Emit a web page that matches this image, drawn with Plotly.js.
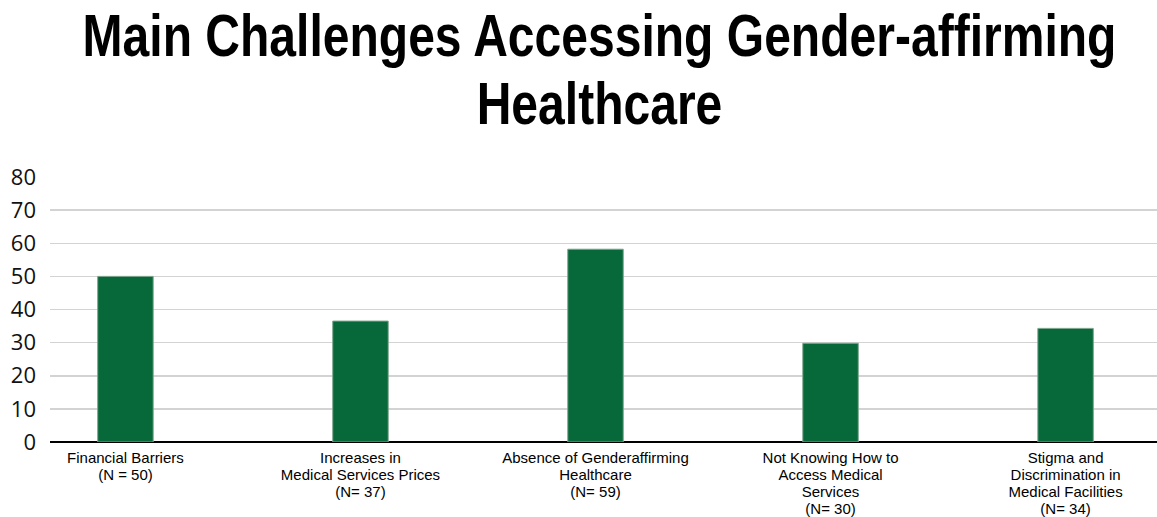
<!DOCTYPE html>
<html>
<head>
<meta charset="utf-8">
<script src="https://cdn.plot.ly/plotly-3.0.1.min.js"></script>
<style>
  html, body { margin: 0; padding: 0; background: #fff; }
  #chart { width: 1157px; height: 517px; }
</style>
</head>
<body>
<div id="chart"></div>
<script>
const categories = [
  "Financial Barriers<br>(N = 50)",
  "Increases in<br>Medical Services Prices<br>(N= 37)",
  "Absence of Genderaffirming<br>Healthcare<br>(N= 59)",
  "Not Knowing How to<br>Access Medical<br>Services<br>(N= 30)",
  "Stigma and<br>Discrimination in<br>Medical Facilities<br>(N= 34)"
];
const values = [50, 36.5, 58.2, 29.8, 34.3];
const yTicks = [0, 10, 20, 30, 40, 50, 60, 70, 80];
const titleText = "Main Challenges Accessing Gender-affirming<br>Healthcare";

const trace = {
  type: "bar",
  x: categories,
  y: values,
  width: 0.236,
  marker: { color: "#076839", line: { color: "#7aa58c", width: 1 } },
  hoverinfo: "x+y"
};

const layout = {
  width: 1157,
  height: 517,
  margin: { l: 50, r: 0, t: 177, b: 75, pad: 0 },
  paper_bgcolor: "#ffffff",
  plot_bgcolor: "#ffffff",
  showlegend: false,
  title: {
    text: titleText,
    font: { family: "Liberation Sans, Arial, sans-serif", size: 60, color: "#000000", weight: 700 },
    x: 0.518, xanchor: "center", xref: "container",
    y: 0.9, yanchor: "top", yref: "container"
  },
  xaxis: {
    type: "category",
    range: [-0.321, 4.389],
    showgrid: false,
    showline: false,
    ticks: "",
    ticklabelstandoff: 5,
    tickfont: { family: "Liberation Sans, Arial, sans-serif", size: 15, color: "#000000" },
    tickangle: 0,
    fixedrange: true
  },
  yaxis: {
    range: [0, 80],
    tickvals: yTicks,
    ticktext: yTicks.map(String),
    showgrid: true,
    gridcolor: "#d3d3d3",
    gridwidth: 1.5,
    zeroline: true,
    zerolinecolor: "#000000",
    zerolinewidth: 2,
    showline: false,
    ticks: "",
    ticklabelstandoff: 13,
    tickfont: { family: "Open Sans, sans-serif", size: 22, color: "#111111" },
    fixedrange: true
  }
};

function tidy() {
  // Title: condensed look, tighter line spacing, fixed baselines
  const t = document.querySelector(".gtitle");
  if (t) {
    const cx = 599.5, base1 = 56, gap = 68;
    t.setAttribute("x", cx);
    t.setAttribute("text-anchor", "middle");
    const lines = t.querySelectorAll("tspan.line");
    if (lines.length) {
      lines.forEach((ln, i) => {
        ln.setAttribute("x", cx);
        ln.setAttribute("y", base1 + i * gap);
        ln.setAttribute("dy", "0");
      });
    }
    t.removeAttribute("transform");
    const bb = t.getBBox();
    const s = 1034 / bb.width;
    t.setAttribute("transform", `translate(${cx},0) scale(${s},1) translate(${-cx},0)`);
  }
  // Category labels: tighter line spacing
  document.querySelectorAll(".xtick text").forEach(tx => {
    tx.querySelectorAll("tspan.line").forEach((ln, i) => {
      ln.setAttribute("dy", (i * 1.13) + "em");
    });
  });
}

Plotly.newPlot("chart", [trace], layout, { displayModeBar: false, staticPlot: true }).then(tidy);
</script>
</body>
</html>
